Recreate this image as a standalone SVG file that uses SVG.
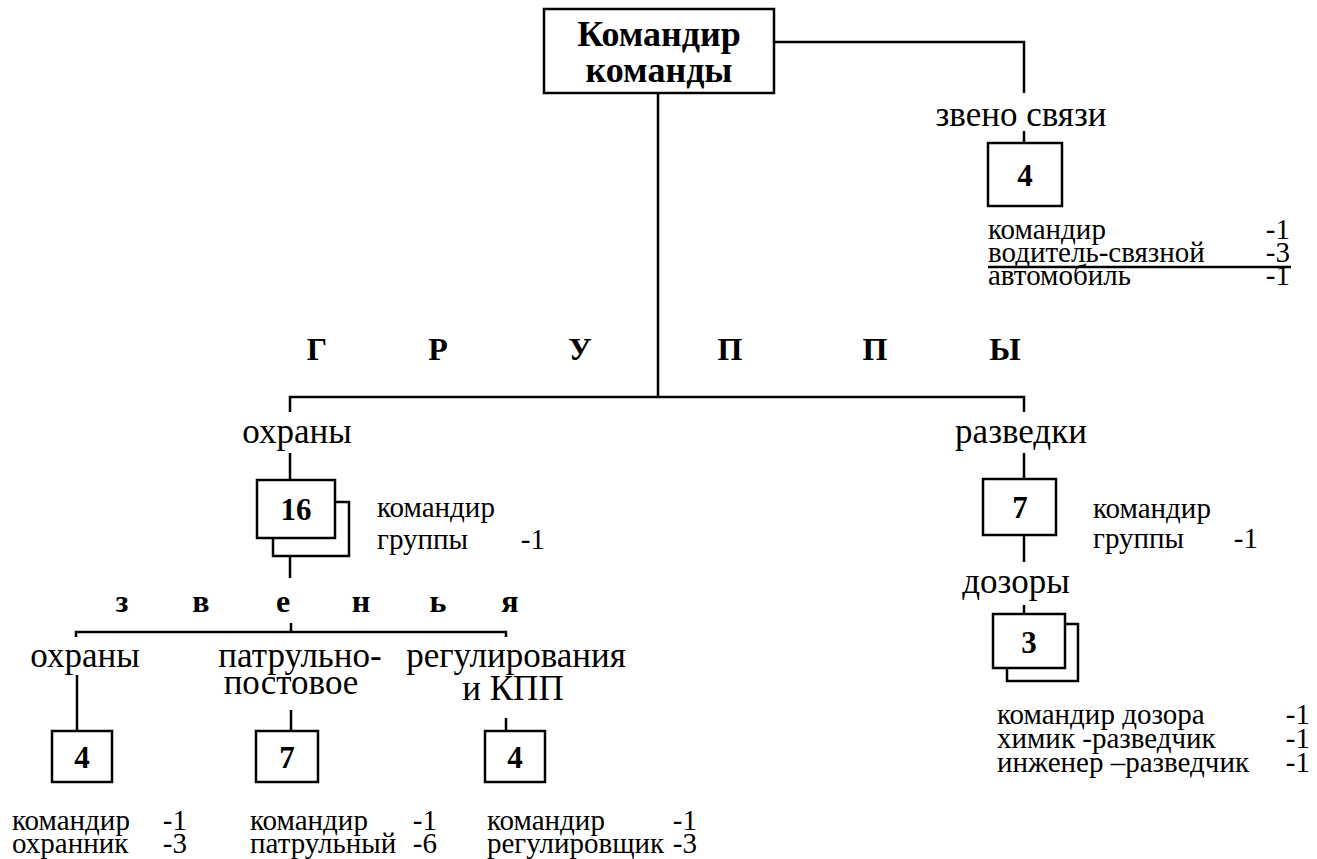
<svg xmlns="http://www.w3.org/2000/svg" width="1317" height="859" viewBox="0 0 1317 859">
<style>
.box{fill:#fff;stroke:#000;stroke-width:2.5}
.ln{fill:none;stroke:#000;stroke-width:2.5}
.t{font-family:"Liberation Serif","Times New Roman",serif;fill:#000}
.lab{font-size:35px;text-anchor:middle}
.num{font-size:31px;font-weight:bold;text-anchor:middle}
.ttl{font-size:36px;font-weight:bold;text-anchor:middle}
.big{font-size:32px;font-weight:bold;text-anchor:middle}
.li{font-size:29px}
.r{text-anchor:end}
</style>
<rect width="1317" height="859" fill="#fff"/>
<g id="connectors" class="ln">
<path d="M658,93 V397"/>
<path d="M774,42 H1024 V93"/>
<path d="M1024,131 V143"/>
<path d="M290,412 V397 H1024 V412"/>
<path d="M290,453 V480"/>
<path d="M290,556 V578"/>
<path d="M76,637 V632 H506 V637"/>
<path d="M291,623 V632"/>
<path d="M77,675 V731"/>
<path d="M291,710 V731"/>
<path d="M506,718 V731"/>
<path d="M1024,453 V479"/>
<path d="M1024,535 V562"/>
<path d="M1024,605 V614"/>
<path d="M988,267 H1291"/>
</g>
<g id="commander">
<rect class="box" x="544" y="9" width="230" height="84"/>
<text class="t ttl" x="659" y="46">Командир</text>
<text class="t ttl" x="659" y="82">команды</text>
</g>
<g id="svyaz">
<text class="t lab" x="1021" y="126">звено связи</text>
<rect class="box" x="988" y="143" width="74" height="63"/>
<text class="t num" x="1025" y="186">4</text>
<text class="t li" x="988" y="239">командир</text>
<text class="t li r" x="1290" y="239">-1</text>
<text class="t li" x="988" y="262">водитель-связной</text>
<text class="t li r" x="1290" y="262">-3</text>
<text class="t li" x="988" y="285">автомобиль</text>
<text class="t li r" x="1290" y="285">-1</text>
</g>
<g id="gruppy">
<text class="t big" x="317" y="360">Г</text>
<text class="t big" x="438" y="360">Р</text>
<text class="t big" x="580" y="360">У</text>
<text class="t big" x="730" y="360">П</text>
<text class="t big" x="875" y="360">П</text>
<text class="t big" x="1005" y="360">Ы</text>
</g>
<g id="ohrana-group">
<text class="t lab" x="297" y="443">охраны</text>
<rect class="box" x="273" y="502" width="76" height="54"/>
<rect class="box" x="257" y="480" width="78" height="58"/>
<text class="t num" x="296" y="520">16</text>
<text class="t li" x="377" y="517">командир</text>
<text class="t li" x="377" y="549">группы</text>
<text class="t li r" x="545" y="549">-1</text>
</g>
<g id="zvenya">
<text class="t big" x="122" y="612">з</text>
<text class="t big" x="201" y="612">в</text>
<text class="t big" x="283" y="612">е</text>
<text class="t big" x="361" y="612">н</text>
<text class="t big" x="438" y="612">ь</text>
<text class="t big" x="510" y="612">я</text>
</g>
<g id="zveno-ohrany">
<text class="t lab" x="85" y="667">охраны</text>
<rect class="box" x="52" y="731" width="60" height="51"/>
<text class="t num" x="82" y="768">4</text>
<text class="t li" x="12" y="830">командир</text>
<text class="t li r" x="187" y="830">-1</text>
<text class="t li" x="12" y="853">охранник</text>
<text class="t li r" x="187" y="853">-3</text>
</g>
<g id="zveno-patrul">
<text class="t lab" x="300" y="667">патрульно-</text>
<text class="t lab" x="291" y="694">постовое</text>
<rect class="box" x="256" y="731" width="62" height="51"/>
<text class="t num" x="287" y="768">7</text>
<text class="t li" x="250" y="830">командир</text>
<text class="t li r" x="437" y="830">-1</text>
<text class="t li" x="250" y="853">патрульный</text>
<text class="t li r" x="437" y="853">-6</text>
</g>
<g id="zveno-regul">
<text class="t lab" x="516" y="667">регулирования</text>
<text class="t lab" x="513" y="700">и КПП</text>
<rect class="box" x="485" y="731" width="60" height="51"/>
<text class="t num" x="515" y="768">4</text>
<text class="t li" x="487" y="830">командир</text>
<text class="t li r" x="697" y="830">-1</text>
<text class="t li" x="487" y="853">регулировщик</text>
<text class="t li r" x="697" y="853">-3</text>
</g>
<g id="razvedka-group">
<text class="t lab" x="1021" y="443">разведки</text>
<rect class="box" x="983" y="479" width="73" height="56"/>
<text class="t num" x="1020" y="518">7</text>
<text class="t li" x="1093" y="518">командир</text>
<text class="t li" x="1093" y="548">группы</text>
<text class="t li r" x="1258" y="548">-1</text>
</g>
<g id="dozory">
<text class="t lab" x="1016" y="593">дозоры</text>
<rect class="box" x="1007" y="624" width="71" height="57"/>
<rect class="box" x="993" y="614" width="72" height="54"/>
<text class="t num" x="1029" y="653">3</text>
<text class="t li" x="997" y="724">командир дозора</text>
<text class="t li r" x="1310" y="724">-1</text>
<text class="t li" x="997" y="748">химик -разведчик</text>
<text class="t li r" x="1310" y="748">-1</text>
<text class="t li" x="997" y="772">инженер –разведчик</text>
<text class="t li r" x="1310" y="772">-1</text>
</g>
</svg>
